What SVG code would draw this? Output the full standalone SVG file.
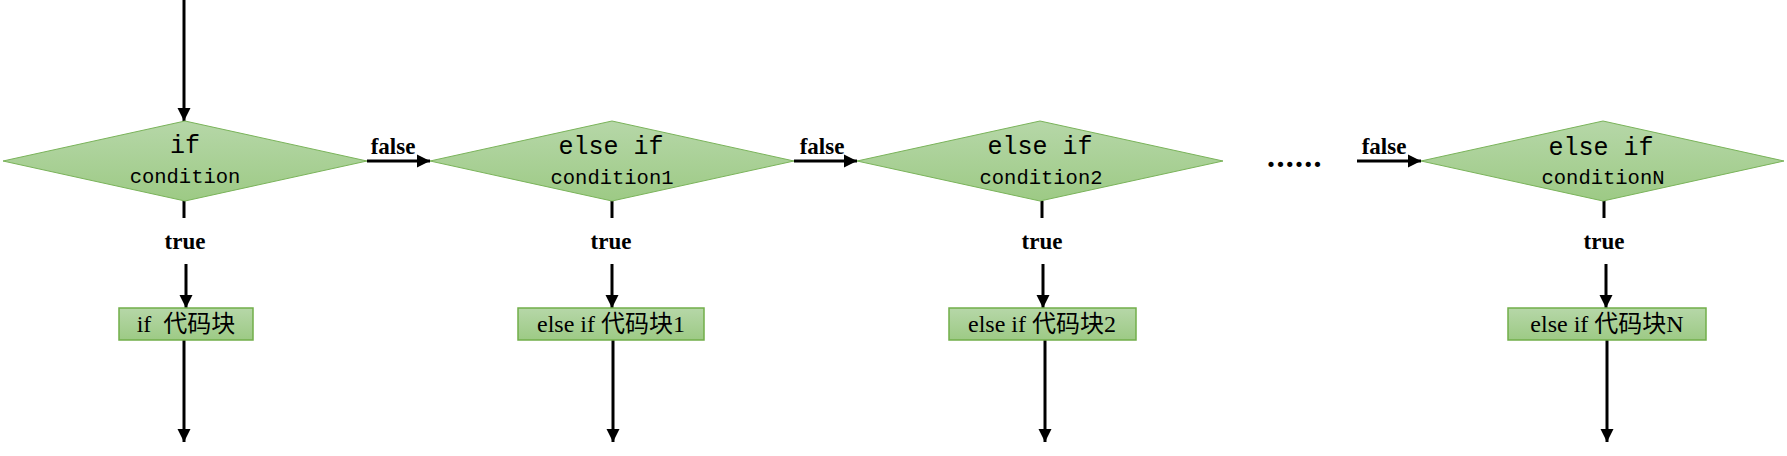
<svg xmlns="http://www.w3.org/2000/svg" width="1787" height="456" viewBox="0 0 1787 456">
<style>
.dia{fill:url(#g);stroke:#7ab35a;stroke-width:1}
.box{fill:url(#g);stroke:#72ae4a;stroke-width:1.5}
.c{stroke:#000;stroke-width:3;fill:none}
.a{marker-end:url(#ah)}
.kw{font-family:"Liberation Mono",monospace;font-size:25px;text-anchor:middle;fill:#000}
.cond{font-family:"Liberation Mono",monospace;font-size:20.5px;text-anchor:middle;fill:#000}
.lbl{font-family:"Liberation Serif",serif;font-weight:bold;font-size:23px;text-anchor:middle;fill:#000}
.bt{font-family:"Liberation Serif","Noto Sans CJK SC",serif;font-size:24px;text-anchor:middle;fill:#000}
</style>
<defs>
<linearGradient id="g" x1="0" y1="0" x2="0" y2="1">
<stop offset="0" stop-color="#b6d7a8"/>
<stop offset="1" stop-color="#9dca85"/>
</linearGradient>
<marker id="ah" markerUnits="userSpaceOnUse" markerWidth="14" markerHeight="14" refX="13" refY="7" orient="auto">
<path d="M0,0.5 L13,7 L0,13.5 Z" fill="#000"/>
</marker>
</defs>
<g id="connectors">
<line class="c a" x1="184" y1="0" x2="184" y2="121"/>
<line class="c a" x1="367" y1="161" x2="430" y2="161"/>
<line class="c a" x1="794" y1="161" x2="857" y2="161"/>
<line class="c a" x1="1357" y1="161" x2="1421" y2="161"/>
<line class="c" x1="184" y1="201" x2="184" y2="218"/>
<line class="c a" x1="186" y1="264" x2="186" y2="308"/>
<line class="c a" x1="184" y1="340" x2="184" y2="442"/>
<line class="c" x1="612" y1="201" x2="612" y2="218"/>
<line class="c a" x1="612" y1="264" x2="612" y2="308"/>
<line class="c a" x1="613" y1="340" x2="613" y2="442"/>
<line class="c" x1="1042" y1="201" x2="1042" y2="218"/>
<line class="c a" x1="1043" y1="264" x2="1043" y2="308"/>
<line class="c a" x1="1045" y1="340" x2="1045" y2="442"/>
<line class="c" x1="1604" y1="201" x2="1604" y2="218"/>
<line class="c a" x1="1606" y1="264" x2="1606" y2="308"/>
<line class="c a" x1="1607" y1="340" x2="1607" y2="442"/>
<text class="lbl" x="393" y="154">false</text>
<text class="lbl" x="822" y="154">false</text>
<text class="lbl" x="1384" y="154">false</text>
<text class="lbl" x="185" y="249">true</text>
<text class="lbl" x="611" y="249">true</text>
<text class="lbl" x="1042" y="249">true</text>
<text class="lbl" x="1604" y="249">true</text>
</g>
<g id="cond0">
<polygon class="dia" points="3,161 185,121 367,161 185,201"/>
<text class="kw" x="185" y="153">if</text>
<text class="cond" x="185" y="183">condition</text>
</g>
<g id="cond1">
<polygon class="dia" points="430,161 612,121 794,161 612,201"/>
<text class="kw" x="611" y="154">else if</text>
<text class="cond" x="612" y="184">condition1</text>
</g>
<g id="cond2">
<polygon class="dia" points="857,161 1040,121 1223,161 1040,201"/>
<text class="kw" x="1040" y="154">else if</text>
<text class="cond" x="1041" y="184">condition2</text>
</g>
<g id="ellipsis">
<text x="1295" y="167" font-family="Liberation Serif,serif" font-weight="bold" font-size="32" text-anchor="middle" letter-spacing="1.3">......</text>
</g>
<g id="condN">
<polygon class="dia" points="1421,161 1603,121 1784,161 1603,201"/>
<text class="kw" x="1601" y="155">else if</text>
<text class="cond" x="1603" y="184">conditionN</text>
</g>
<g id="block0">
<rect class="box" x="119" y="308" width="134" height="32"/>
<text class="bt" x="186" y="332" xml:space="preserve">if  代码块</text>
</g>
<g id="block1">
<rect class="box" x="518" y="308" width="186" height="32"/>
<text class="bt" x="611" y="332">else if 代码块1</text>
</g>
<g id="block2">
<rect class="box" x="949" y="308" width="187" height="32"/>
<text class="bt" x="1042" y="332">else if 代码块2</text>
</g>
<g id="blockN">
<rect class="box" x="1508" y="308" width="198" height="32"/>
<text class="bt" x="1607" y="332">else if 代码块N</text>
</g>
</svg>
